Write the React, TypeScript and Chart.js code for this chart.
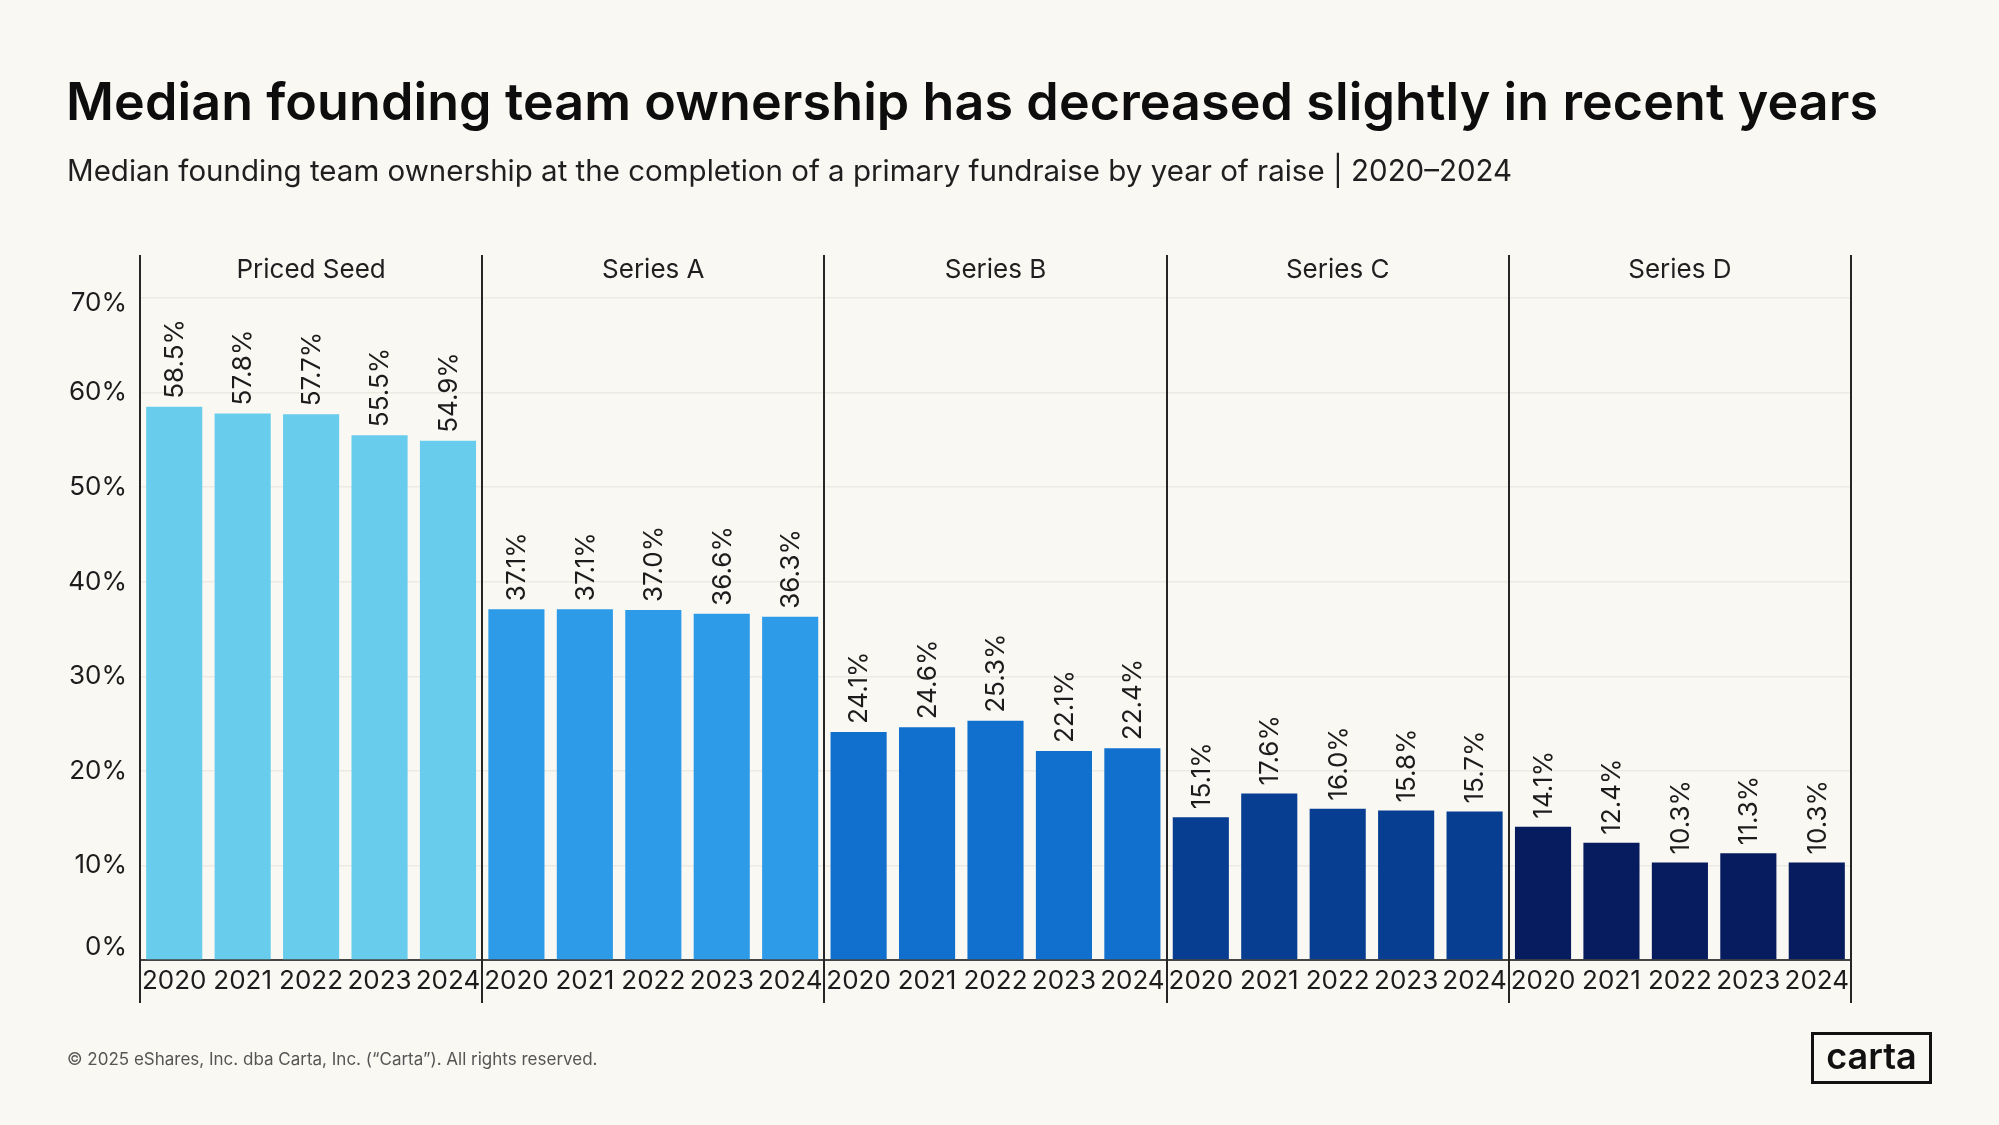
import React, { useEffect, useRef } from "react";
import { Chart, registerables } from "chart.js";

Chart.register(...registerables);

const years = ["2020", "2021", "2022", "2023", "2024"];
const rounds = ["Priced Seed", "Series A", "Series B", "Series C", "Series D"];
const pricedSeed = [58.5, 57.8, 57.7, 55.5, 54.9];
const seriesA = [37.1, 37.1, 37.0, 36.6, 36.3];
const seriesB = [24.1, 24.6, 25.3, 22.1, 22.4];
const seriesC = [15.1, 17.6, 16.0, 15.8, 15.7];
const seriesD = [14.1, 12.4, 10.3, 11.3, 10.3];
const roundColors = ["#68CDED", "#2E9BE9", "#1170CD", "#073E92", "#061C5E"];
const yTicks = [0, 10, 20, 30, 40, 50, 60, 70];

const FONT = "Inter, 'Noto Sans', sans-serif";
const BG = "#FAF8F3";

export default function App() {
  const canvasRef = useRef<HTMLCanvasElement | null>(null);

  useEffect(() => {
    const groups = [pricedSeed, seriesA, seriesB, seriesC, seriesD];
    const labels: string[] = [];
    const values: number[] = [];
    const colors: string[] = [];
    groups.forEach((g, gi) => {
      g.forEach((v, i) => {
        labels.push(years[i]);
        values.push(v);
        colors.push(roundColors[gi]);
      });
    });

    const overlay = {
      id: "overlay",
      afterDatasetsDraw(chart: any) {
        const ctx = chart.ctx;
        const area = chart.chartArea;
        const meta = chart.getDatasetMeta(0);
        const yScale = chart.scales.y;

        // y tick labels, kept inside the plot's vertical span
        ctx.save();
        ctx.fillStyle = "#1c1c1c";
        ctx.font = `400 26px ${FONT}`;
        ctx.textAlign = "right";
        ctx.textBaseline = "middle";
        yTicks.forEach((t) => {
          const py = yScale.getPixelForValue(t);
          const y = Math.min(Math.max(py, area.top + 5), area.bottom - 13);
          ctx.fillText(t + "%", area.left - 13, y);
        });
        ctx.restore();

        // value labels
        ctx.save();
        ctx.fillStyle = "#1c1c1c";
        ctx.font = `400 26px ${FONT}`;
        meta.data.forEach((bar: any, i: number) => {
          const v = values[i];
          ctx.save();
          ctx.translate(bar.x, bar.y - 8);
          ctx.rotate(-Math.PI / 2);
          ctx.textAlign = "left";
          ctx.textBaseline = "middle";
          ctx.fillText(v.toFixed(1) + "%", 0, 1);
          ctx.restore();
        });
        ctx.restore();

        // panel dividers and headers
        const n = rounds.length;
        const w = (area.right - area.left) / n;
        ctx.save();
        ctx.strokeStyle = "#262626";
        ctx.lineWidth = 2;
        for (let i = 0; i <= n; i++) {
          const x = Math.round(area.left + i * w);
          ctx.beginPath();
          ctx.moveTo(x, area.top - 43);
          ctx.lineTo(x, area.bottom + 43);
          ctx.stroke();
        }
        ctx.fillStyle = "#1f1f1f";
        ctx.font = `400 26px ${FONT}`;
        ctx.textAlign = "center";
        ctx.textBaseline = "middle";
        rounds.forEach((r, i) => {
          ctx.fillText(r, area.left + (i + 0.5) * w, area.top - 28);
        });
        ctx.restore();
      },
    };

    const chart = new Chart(canvasRef.current as HTMLCanvasElement, {
      type: "bar",
      data: {
        labels,
        datasets: [
          {
            data: values,
            backgroundColor: colors,
            borderWidth: 0,
            barPercentage: 0.82,
            categoryPercentage: 1,
          },
        ],
      },
      options: {
        responsive: false,
        animation: false,
        devicePixelRatio: 1,
        layout: { padding: { left: 0, right: 148, top: 298, bottom: 125 } },
        plugins: {
          legend: { display: false },
          tooltip: { enabled: false },
          title: { display: false },
        },
        scales: {
          x: {
            type: "category",
            afterFit: (s: any) => {
              s.height = 40;
            },
            grid: { display: false, drawTicks: false },
            border: { display: true, color: "#444444", width: 2 },
            ticks: {
              autoSkip: false,
              maxRotation: 0,
              minRotation: 0,
              padding: 6,
              color: "#1c1c1c",
              font: { family: FONT, size: 26, weight: "400" },
            },
          },
          y: {
            min: yTicks[0],
            max: yTicks[yTicks.length - 1],
            afterFit: (s: any) => {
              s.width = 140;
            },
            afterBuildTicks: (s: any) => {
              s.ticks = yTicks.map((v) => ({ value: v }));
            },
            grid: { color: "#EDEAE3", lineWidth: 1.5, drawTicks: false },
            border: { display: false },
            ticks: {
              display: false,
              callback: (v: any) => v + "%",
            },
          },
        },
      },
      plugins: [overlay],
    });
    return () => chart.destroy();
  }, []);

  return (
    <div
      style={{
        position: "absolute",
        left: 0,
        top: 0,
        width: 1999,
        height: 1125,
        background: BG,
        overflow: "hidden",
        fontFamily: FONT,
        color: "#111",
      }}
    >
      <canvas
        ref={canvasRef}
        width={1999}
        height={1125}
        style={{ position: "absolute", left: 0, top: 0, width: 1999, height: 1125 }}
      />
      <div
        style={{
          position: "absolute",
          left: 66,
          top: 76,
          fontSize: 52,
          lineHeight: "52px",
          fontWeight: 600,
          letterSpacing: 0.1,
          whiteSpace: "nowrap",
          color: "#0d0d0d",
        }}
      >
        Median founding team ownership has decreased slightly in recent years
      </div>
      <div
        style={{
          position: "absolute",
          left: 67,
          top: 156,
          fontSize: 29.5,
          lineHeight: "29.5px",
          fontWeight: 400,
          letterSpacing: 0,
          whiteSpace: "nowrap",
          color: "#1f1f1f",
        }}
      >
        Median founding team ownership at the completion of a primary fundraise by year of raise | 2020–2024
      </div>
      <div
        style={{
          position: "absolute",
          left: 67,
          top: 1051,
          fontSize: 17,
          lineHeight: "17px",
          whiteSpace: "nowrap",
          color: "#555",
        }}
      >
        © 2025 eShares, Inc. dba Carta, Inc. (“Carta”). All rights reserved.
      </div>
      <div
        style={{
          position: "absolute",
          left: 1811,
          top: 1032,
          width: 121,
          height: 52,
          boxSizing: "border-box",
          border: "3px solid #111",
          display: "flex",
          alignItems: "center",
          justifyContent: "center",
          fontSize: 36,
          fontWeight: 600,
          lineHeight: "36px",
          color: "#111",
          paddingBottom: 4,
        }}
      >
        carta
      </div>
    </div>
  );
}
